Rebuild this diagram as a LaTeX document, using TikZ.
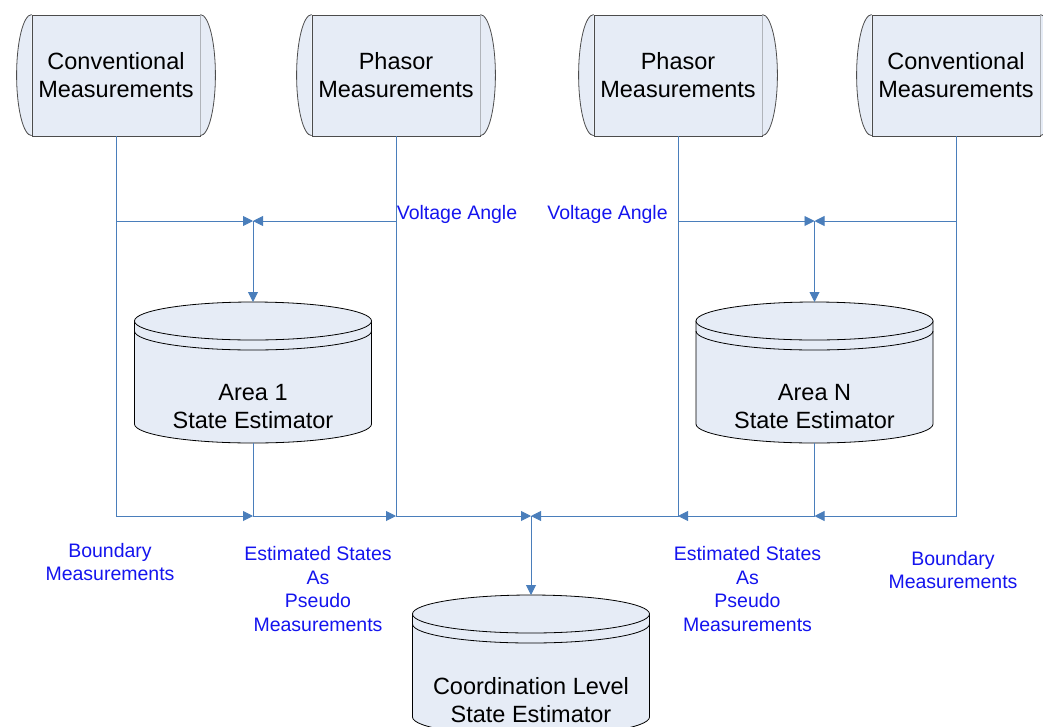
\documentclass[tikz,border=0pt]{standalone}
\usepackage{fontspec}
\setmainfont{Liberation Sans}
\usetikzlibrary{arrows.meta}
\definecolor{fillc}{HTML}{E6ECF6}
\definecolor{linec}{HTML}{4A7EBB}
\definecolor{labc}{HTML}{1414EE}
\newcommand{\drawcyl}[2]{%
  \path[cylbody] (#1-118.5,-#2-19) -- (#1-118.5,-#2-122) arc[start angle=180,end angle=360,x radius=118.5,y radius=19] -- (#1+118.5,-#2-19) -- cycle;
  \path[cylbody] (#1,-#2-19) ellipse [x radius=118.5, y radius=19];
  \draw[cylline] (#1-118.5,-#2-29) arc[start angle=180,end angle=360,x radius=118.5,y radius=19];
}
\begin{document}
\begin{tikzpicture}[x=1pt,y=1pt,
  mbox/.style={draw=black!70, line width=0.8pt, fill=fillc, minimum width=168, minimum height=121, align=center, inner sep=0pt, font=\fontsize{23.5}{28}\selectfont},
  bulge/.style={draw=black!70, line width=0.8pt, fill=fillc},
  cylbody/.style={draw=black, line width=0.8pt, fill=fillc},
  cylline/.style={draw=black, line width=0.8pt},
  ctext/.style={align=center, inner sep=0pt, font=\fontsize{23.5}{28}\selectfont},
  lab/.style={align=center, inner sep=0pt, text=labc, font=\fontsize{19.5}{23.5}\selectfont},
  conn/.style={draw=linec, line width=0.9pt},
  arr/.style={conn, -{Triangle[length=10pt,width=10pt]}}
]
\useasboundingbox (0,0) rectangle (1043,-726);
\clip (0,0) rectangle (1043,-726);

% top measurement boxes
\node[mbox] (b1) at (116,-75.5) {Conventional\\Measurements};
\node[mbox] (b2) at (396,-75.5) {Phasor\\Measurements};
\node[mbox] (b3) at (678,-75.5) {Phasor\\Measurements};
\node[mbox] (b4) at (956,-75.5) {Conventional\\Measurements};
\foreach \b in {b1,b2,b3,b4}{
  \path[bulge] (\b.north west) arc[start angle=90,end angle=270,x radius=15,y radius=60.5];
  \path[bulge] (\b.north east) arc[start angle=90,end angle=-90,x radius=15,y radius=60.5];
}

% cylinders
\drawcyl{253}{302}
\drawcyl{814.5}{302}
\drawcyl{531}{595}
\coordinate (a1top) at (253,-302);
\coordinate (a1bot) at (253,-443);
\coordinate (aNtop) at (814.5,-302);
\coordinate (aNbot) at (814.5,-443);
\coordinate (ctop) at (531,-595);
\node[ctext] (a1) at (253,-407) {Area 1\\State Estimator};
\node[ctext] (aN) at (814.5,-407) {Area N\\State Estimator};
\node[ctext] (co) at (531,-700) {Coordination Level\\State Estimator};

% junction points
\coordinate (t1) at (253,-221);
\coordinate (t2) at (814.5,-221);
\coordinate (p1) at (253,-516);
\coordinate (p2) at (396,-516);
\coordinate (m)  at (531,-516);
\coordinate (p3) at (678,-516);
\coordinate (p4) at (814.5,-516);

% connectors
\draw[arr] (b1.south) |- (t1);
\draw[arr] (b2.south) |- (t1);
\draw[arr] (t1) -- (a1top);
\draw[arr] (b1.south) |- (p1);
\draw[arr] (a1bot) |- (p2);
\draw[arr] (b2.south) |- (m);
\draw[arr] (b3.south) |- (t2);
\draw[arr] (b4.south) |- (t2);
\draw[arr] (t2) -- (aNtop);
\draw[arr] (b4.south) |- (p4);
\draw[arr] (aNbot) |- (p3);
\draw[arr] (b3.south) |- (m);
\draw[arr] (m) -- (ctop);

% labels
\node[lab] (va1) at (457,-214) {Voltage Angle};
\node[lab] (va2) at (607.5,-214) {Voltage Angle};
\node[lab] (bm1) at (110,-562) {Boundary\\Measurements};
\node[lab] (es1) at (318,-589) {Estimated States\\As\\Pseudo\\Measurements};
\node[lab] (es2) at (747.5,-589) {Estimated States\\As\\Pseudo\\Measurements};
\node[lab] (bm2) at (953,-570) {Boundary\\Measurements};
\end{tikzpicture}
\end{document}
